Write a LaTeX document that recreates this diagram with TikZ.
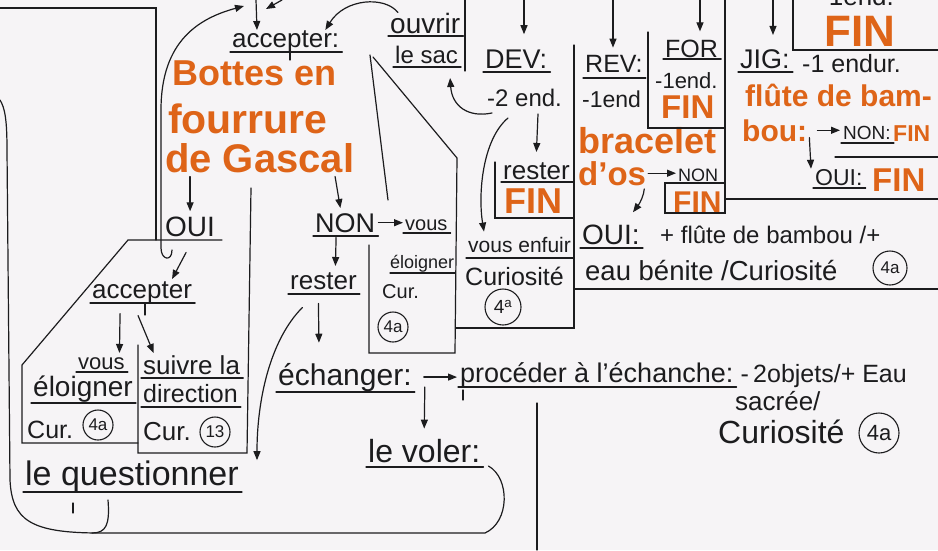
\documentclass[tikz,border=0pt]{standalone}
\usepackage{fontspec}
\setmainfont{Liberation Sans}
\usetikzlibrary{arrows.meta}
\definecolor{inkline}{RGB}{28,28,30}
\definecolor{finorange}{RGB}{222,100,24}
\definecolor{paper}{RGB}{246,244,246}
\tikzset{
  txt/.style={anchor=base west, inner sep=0pt, text=inkline, font=\fontsize{#1}{#1}\selectfont},
  fin/.style={anchor=base west, inner sep=0pt, text=finorange, font=\fontsize{#1}{#1}\selectfont\bfseries},
  pen/.style={draw=inkline, line width=1.2pt, line cap=round},
  arr/.style={pen, -{Triangle[length=9pt,width=7pt]}},
  num/.style={draw=inkline, circle, line width=1.1pt, inner sep=0pt, minimum size=#1, text=inkline, font=\fontsize{17}{17}\selectfont},
}
\newcommand\ulnode[2][5pt]{\draw[pen] ([shift={(-2pt,-#1)}]#2.base west) -- ([shift={(3pt,-#1)}]#2.base east);}
\begin{document}
\begin{tikzpicture}[x=1pt,y=-1pt]
\useasboundingbox (0,0) rectangle (938,550);
\fill[paper] (0,0) rectangle (938,550);
\clip (0,0) rectangle (938,550);

% texts
\node[txt=26] (accT) at (232,47) {accepter:};
\node[fin=36] (bottes) at (172,85) {Bottes en};
\node[fin=41] (fourrure) at (168,133) {fourrure};
\node[fin=40] (gascal) at (165,172) {de Gascal};
\node[txt=28] (ouvrir) at (390,33) {ouvrir};
\node[txt=24] (lesac) at (395,63) {le sac};

\node[txt=27] (dev) at (485,68) {DEV:};
\node[txt=24] (devend) at (487,106) {-2 end.};
\node[txt=26] (devrest) at (503,179) {rester};
\node[fin=36] (devfin) at (504,213) {FIN};
\node[txt=21] (enfuir) at (468,252) {vous enfuir};
\node[txt=25] (enfcur) at (465,285) {Curiosité};
\node[num=36pt, font=\fontsize{19}{19}\selectfont] (enfnum) at (503,307) {4\textsuperscript{a}};

\node[txt=25] (rev) at (585,72) {REV:};
\node[txt=23] (revend) at (582,107) {-1end};
\node[fin=36] (bracelet) at (578,153) {bracelet};
\node[fin=33] (dos) at (578,185) {d'os};
\node[txt=18] (revnon) at (678,181) {NON};
\node[fin=30] (revfin) at (673,212) {FIN};
\node[txt=28] (revoui) at (582,244) {OUI:};
\node[txt=24] (flute) at (660,243) {+ flûte de bambou /+};
\node[txt=27.5] (eau) at (585,280) {eau bénite /Curiosité};
\node[num=34pt] (eaunum) at (890,268) {4a};

\node[txt=25] (for) at (665,57) {FOR};
\node[txt=22] (forend) at (655,88) {-1end.};
\node[fin=33] (forfin) at (661,118) {FIN};

\node[txt=27] (jig) at (740,68) {JIG:};
\node[txt=25] (jigend) at (802,72) {-1 endur.};
\node[fin=30] (bambou) at (745,106) {flûte de bam-};
\node[fin=30] (bou) at (742,141) {bou:};
\node[txt=19] (jignon) at (843,139) {NON:};
\node[fin=23] (jignonfin) at (893,141) {FIN};
\node[txt=23] (jigoui) at (815,185) {OUI:};
\node[fin=33] (jigouifin) at (872,191) {FIN};
\node[txt=26] (topend) at (820,5) {-1end.};
\node[fin=44] (topfin) at (824,46) {FIN};

\node[txt=27] (nonA) at (315,232) {NON};
\node[txt=20] (vousB) at (405,230) {vous};
\node[txt=18] (eloiB) at (390,268) {éloigner};
\node[txt=20] (curB) at (382,298) {Cur.};
\node[num=30pt] (numB) at (393,327) {4a};
\node[txt=26] (resterB) at (290,289) {rester};
\node[txt=30] (echanger) at (278,385) {échanger:};
\node[txt=27] (proc) at (460,382) {procéder à l'échanche:};
\node[txt=25] (objets) at (proc.base east) {\ -\,2objets/+ Eau};
\node[txt=26] (sacree) at (735,410) {sacrée/};
\node[txt=32] (curE) at (718,443) {Curiosité};
\node[num=40pt, font=\fontsize{22}{22}\selectfont] (numE) at (879,433) {4a};
\node[txt=32] (voler) at (368,462) {le voler:};

\node[txt=28] (ouiA) at (165,236) {OUI};
\node[txt=26] (accB) at (92,298) {accepter};
\node[txt=22] (vousA) at (78,369) {vous};
\node[txt=28] (eloiA) at (33,396) {éloigner};
\node[txt=25] (curA) at (27,438) {Cur.};
\node[num=30pt] (numA) at (98,425) {4a};
\node[txt=26] (suivre) at (143,374) {suivre la};
\node[txt=25] (direction) at (143,402) {direction};
\node[txt=26] (curS) at (143,440) {Cur.};
\node[num=30pt] (numS) at (215,432) {13};
\node[txt=34] (quest) at (25,485) {le questionner};

% underlines
\ulnode[5pt]{accT} \ulnode[3pt]{ouvrir} \ulnode[4pt]{lesac}
\ulnode[4pt]{dev} \ulnode[3pt]{devrest} \ulnode[6pt]{enfuir}
\ulnode[6pt]{rev} \ulnode[4pt]{revoui} \ulnode[2pt]{for}
\ulnode[4pt]{jig} \ulnode[4pt]{jignon} \ulnode[3pt]{jigoui}
\ulnode[4pt]{nonA} \ulnode[3pt]{vousB} \ulnode[5pt]{resterB}
\ulnode[7pt]{echanger} \ulnode[5pt]{proc} \ulnode[5pt]{voler}
\ulnode[5pt]{accB} \ulnode[3pt]{vousA} \ulnode[7pt]{eloiA}
\ulnode[4pt]{suivre} \ulnode[5pt]{direction} \ulnode[7pt]{quest}

% frame lines
\draw[pen] (0,8) -- (156,8) -- (156,240);
\draw[pen] (222,240) -- (128,240) -- (22,365) -- (22,443) -- (138,443);
\draw[pen] (138,345) -- (138,453) -- (247,453) -- (251,188);
\draw[pen] (370,55) -- (388,200);
\draw[pen] (373,57) -- (457,158) -- (455,353) -- (369,353) -- (369,245);
\draw[pen] (390,273) -- (455,273);
\draw[pen] (465,0) -- (465,71);
\draw[pen] (495,162) -- (495,218) -- (574,218);
\draw[pen] (574,45) -- (574,328) -- (456,328);
\draw[pen] (648,32) -- (648,128) -- (725,128);
\draw[pen] (725,0) -- (725,213) -- (665,213) -- (665,183) -- (725,183);
\draw[pen] (574,289) -- (938,289);
\draw[pen] (725,199) -- (938,199);
\draw[pen] (835,157) -- (938,157);
\draw[pen] (793,0) -- (793,50) -- (938,50);
\draw[pen] (537,403) -- (537,550);

% ticks
\draw[pen] ([shift={(48pt,-18pt)}]quest.base west) -- ++(0,10);
\draw[pen] ([shift={(3pt,-8pt)}]proc.base west) -- ++(0,10);
\draw[pen] ([shift={(58pt,-5pt)}]accT.base west) -- ++(0,8);
\draw[pen] ([shift={(53pt,-5pt)}]accB.base west) -- ++(0,12);

% loops
\draw[pen] ([shift={(8pt,-4pt)}]voler.base east) .. controls (510,478) and (510,522) .. (485,533)
  -- (100,533) .. controls (30,533) and (12,520) .. (10,480) -- (7,150) .. controls (7,120) and (5,108) .. (0,100);
\draw[pen] ([shift={(83pt,-15pt)}]quest.base west) .. controls (110,525) and (106,533) .. (92,533);

% top arrows
\coordinate (topjoin) at (244,6);
\coordinate (topin) at (256,0);
\coordinate (topin2) at (282,0);
\coordinate (topjoin2) at (266,9);
\coordinate (devin) at (524,0);
\coordinate (revin) at (613,0);
\coordinate (forin) at (700,0);
\coordinate (jigin) at (773,0);
\draw[arr] ([shift={(7pt,-14pt)}]ouiA.base west) .. controls +(0,12) and +(0,12) .. (161,248)
  -- (161,110) .. controls (161,40) and (200,18) .. (topjoin);
\draw[arr] (topin) -- ([xshift=25pt]accT.north west);
\draw[arr] (topin2) -- (topjoin2);
\draw[arr] ([xshift=8pt]ouvrir.north west) .. controls (385,-4) and (345,-2) .. ([xshift=-14pt]accT.north east);
\draw[arr, shorten >=15pt] (devin) -- (devin |- dev.north);
\draw[arr, shorten >=7pt] (revin) -- (revin |- rev.north);
\draw[arr, shorten >=8pt] (forin) -- (forin |- for.north);
\draw[arr, shorten >=14pt] (jigin) -- (jigin |- jig.north);

% DEV / REV / JIG arrows
\draw[arr] ([shift={(5pt,-7pt)}]devend.base west) .. controls (468,118) and (452,106) .. ([shift={(-8pt,-15pt)}]lesac.base east);
\draw[arr] ([shift={(51pt,-8pt)}]devend.base west) -- ([yshift=10pt]devrest.north);
\draw[arr] ([shift={(21pt,-12pt)}]devend.base west) .. controls (482,140) and (478,195) .. ([shift={(16pt,5pt)}]enfuir.north west);
\draw[arr, shorten <=2pt, shorten >=2pt] (dos.east) -- (dos.east -| revnon.west);
\draw[arr] ([shift={(-2pt,-4pt)}]dos.base east) .. controls (644,195) and (640,203) .. ([shift={(51pt,12pt)}]revoui.north west);
\draw[arr, shorten <=10pt, shorten >=3pt] (bou.east) -- (bou.east -| jignon.west);
\draw[arr] ([shift={(2pt,4pt)}]bou.south east) -- ([xshift=-4pt]jigoui.north west);

% Gascal arrows
\draw[arr, shorten <=4pt, shorten >=5pt] (ouiA.north |- gascal.south) -- (ouiA.north);
\draw[arr, shorten <=4pt, shorten >=5pt] ([xshift=-20pt]gascal.south east) -- ([xshift=-4pt]nonA.north);
\draw[arr, shorten <=3pt, shorten >=2pt] (nonA.east) -- (nonA.east -| vousB.west);
\draw[arr, shorten <=5pt] ([xshift=-9pt]nonA.south) -- ([shift={(12pt,6pt)}]resterB.north);
\draw[arr] ([shift={(-5pt,-14pt)}]resterB.south) -- ([shift={(-26pt,20pt)}]echanger.north);
\draw[arr] ([shift={(-21pt,-18pt)}]resterB.south) .. controls (270,340) and (257,400) .. ([xshift=18pt]quest.north east);
\draw[arr, shorten <=12pt, shorten >=3pt] (echanger.east) -- (echanger.east -| proc.west);
\draw[arr] ([shift={(13pt,-2pt)}]echanger.base east) -- ([yshift=10pt]voler.north);

% OUI branch arrows
\draw[arr] ([shift={(-4pt,-16pt)}]ouiA.south) -- ([shift={(30pt,2pt)}]accB.north);
\draw[arr] ([shift={(-22pt,-10pt)}]accB.south) -- ([shift={(18pt,4pt)}]vousA.north);
\draw[arr] ([shift={(-4pt,-12pt)}]accB.south) -- ([shift={(-38pt,2pt)}]suivre.north);
\end{tikzpicture}
\end{document}
